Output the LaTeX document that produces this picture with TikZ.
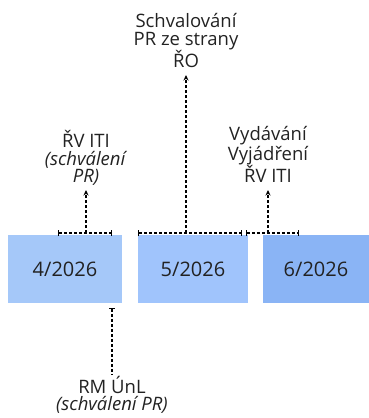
\documentclass[tikz,border=0pt]{standalone}
\usepackage{fontspec}
\setmainfont{Open Sans}
\usetikzlibrary{arrows.meta}
\definecolor{txt}{HTML}{222222}
\definecolor{apr}{HTML}{A5C8F9}
\definecolor{may}{HTML}{A0C4FC}
\definecolor{jun}{HTML}{8AB4F5}
\tikzset{
  month/.style={minimum height=68pt, inner sep=0pt, text=txt, font=\fontsize{20}{20}\selectfont},
  lbl/.style={align=center, text=txt, inner sep=2pt, font=\fontsize{18.5}{17.5}\selectfont},
  span/.style={densely dashed, line width=1.2pt, {Bar[width=6pt]}-{Bar[width=6pt]}},
  arr/.style={densely dashed, line width=1.2pt, -{Stealth[length=5.5pt,width=5pt]}}
}

\begin{document}
\begin{tikzpicture}[x=1pt, y=-1pt]
\useasboundingbox (0,0) rectangle (368,418);

% months
\node[month, fill=apr, minimum width=114pt] (m4) at (65,269) {4/2026};
\node[month, fill=may, minimum width=110pt] (m5) at (193,269) {5/2026};
\node[month, fill=jun, minimum width=106pt] (m6) at (316,269) {6/2026};

% spans above the months
\coordinate (s1a) at (58,233);
\coordinate (s1b) at (112,233);
\coordinate (s1m) at (86,233);
\coordinate (s2a) at (138,233);
\coordinate (s2b) at (242,233);
\coordinate (s2m) at (186,233);
\coordinate (s3a) at (246,233);
\coordinate (s3b) at (299,233);
\coordinate (s3m) at (268,233);
\draw[span] (s1a)--(s1b);
\draw[span] (s2a)--(s2b);
\draw[span] (s3a)--(s3b);

% labels
\node[lbl, text depth=5pt, anchor=south] (rviti) at (86,190) {ŘV ITI\\\textit{(schválení}\\\textit{PR)}};
\node[lbl, text depth=5pt, anchor=south] (ro) at (186,75) {Schvalování\\PR ze strany\\ŘO};
\node[lbl, text depth=5pt, anchor=south] (vyd) at (268,190) {Vydávání\\Vyjádření\\ŘV ITI};
\node[lbl, anchor=north] (unl) at (112,374) {RM ÚnL\\\textit{(schválení PR)}};

\draw[arr] (s1m)--(rviti.south);
\draw[arr] (s2m)--(ro.south);
\draw[arr] (s3m)--(vyd.south);

%\draw[fill] (112,308) circle (1pt);
\coordinate (rm) at (112,308);
\draw[arr, {Bar[width=6pt]}-] (rm)--(unl.north);
\end{tikzpicture}
\end{document}
